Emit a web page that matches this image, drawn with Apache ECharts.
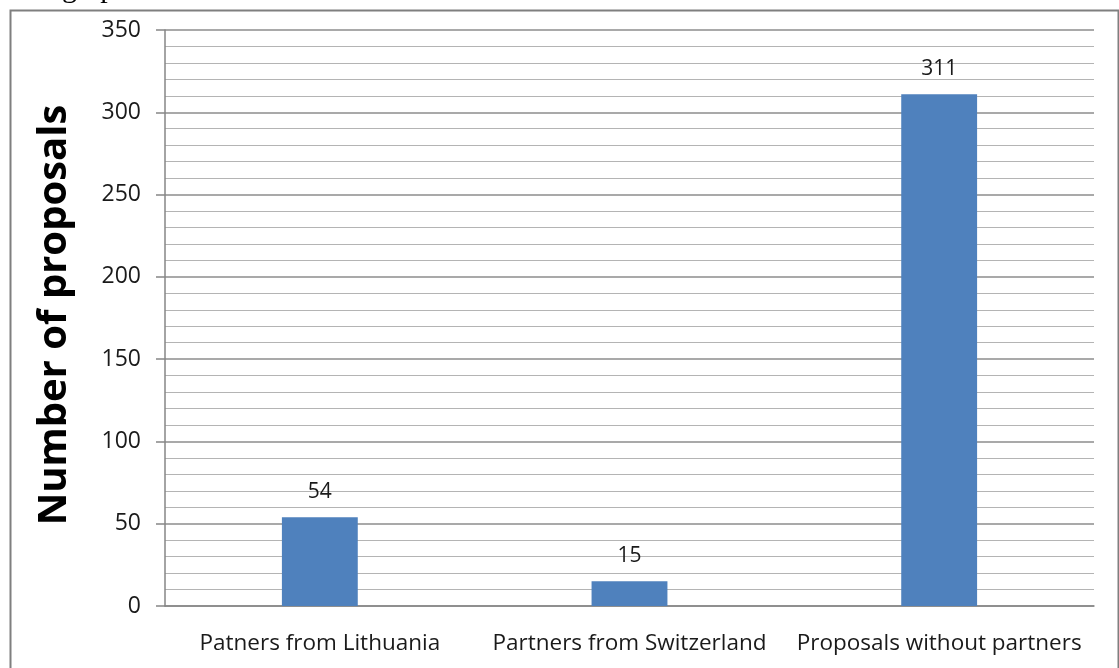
<!DOCTYPE html>
<html>
<head>
<meta charset="utf-8">
<script src="https://cdn.jsdelivr.net/npm/echarts@6/dist/echarts.min.js"></script>
<style>
  html, body { margin: 0; padding: 0; background: #fff; }
  #chart { width: 1119px; height: 668px; }
</style>
</head>
<body>
<div id="chart"></div>
<script>
// data
var categories = ['Patners from Lithuania', 'Partners from Switzerland', 'Proposals without partners'];
var proposals = [54, 15, 311];
var yTitle = 'Number of proposals';

var font = '"Open Sans", Lato, sans-serif';

var chart = echarts.init(document.getElementById('chart'), null, { renderer: 'canvas' });

chart.setOption({
    animation: false,
    backgroundColor: '#fff',
    grid: { left: 165, right: 25, top: 30, bottom: 62 },
    graphic: [
        // frame of the embedded chart
        { type: 'rect', left: 8, top: 8, shape: { width: 1108, height: 700 },
          style: { fill: 'none', stroke: '#7f7f7f', lineWidth: 2 }, silent: true },
        // cut-off bit of the page text above the chart
        { type: 'text', x: 62, y: 4,
          style: { text: 'graph', font: '30px "Liberation Serif", serif', fill: '#000',
                   textVerticalAlign: 'bottom' } },
        { type: 'text', x: 55, y: 315, rotation: Math.PI / 2,
          style: { text: yTitle, font: 'bold 40px ' + font, fill: '#000',
                   textAlign: 'center', textVerticalAlign: 'middle' } }
    ],
    xAxis: {
        type: 'category',
        data: categories,
        axisLine: { lineStyle: { color: '#868686', width: 1.5 } },
        axisTick: { show: false },
        axisLabel: { color: '#1a1a1a', fontSize: 22.5, fontFamily: font, margin: 26, interval: 0 }
    },
    yAxis: {
        type: 'value',
        min: 0, max: 350, interval: 50,
        axisLine: { show: true, lineStyle: { color: '#868686', width: 1.5 } },
        axisTick: { show: true, length: 9, lineStyle: { color: '#868686', width: 1.5 } },
        axisLabel: { color: '#1a1a1a', fontSize: 23, fontFamily: font, margin: 24 },
        splitLine: { lineStyle: { color: '#8c8c8c', width: 1.5 } },
        minorTick: { show: false, splitNumber: 5 },
        minorSplitLine: { show: true, lineStyle: { color: '#b4b4b4', width: 1.2 } }
    },
    series: [{
        type: 'bar',
        data: proposals,
        barWidth: '24.5%',
        itemStyle: { color: '#4f81bd' },
        label: { show: true, position: 'top', distance: 15,
                 color: '#1a1a1a', fontSize: 21, fontFamily: font }
    }]
});
</script>
</body>
</html>
